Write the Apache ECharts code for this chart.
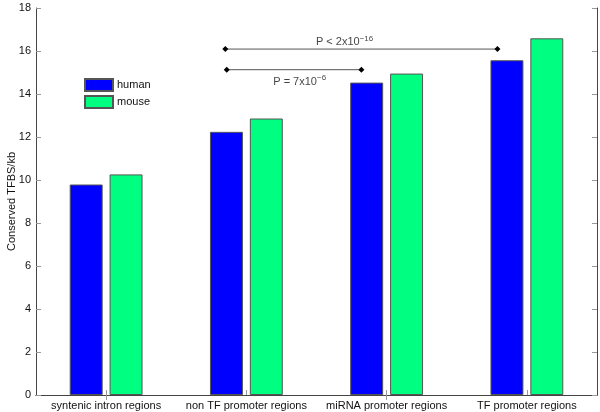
<!DOCTYPE html>
<html>
<head>
<meta charset="utf-8">
<script src="https://cdn.jsdelivr.net/npm/echarts@6/dist/echarts.min.js"></script>
<style>html,body{margin:0;padding:0;background:#fff}#c{width:600px;height:412px}</style>
</head>
<body>
<div id="c"></div>
<script>
const categories = ['syntenic intron regions', 'non TF promoter regions', 'miRNA promoter regions', 'TF promoter regions'];
const human = [9.79, 12.24, 14.53, 15.57];
const mouse = [10.26, 12.86, 14.95, 16.59];
const seriesNames = ['human', 'mouse'];
const yLabel = 'Conserved TFBS/kb';
// significance brackets: [xStart, xEnd, y] on a 0..4 category-coordinate scale
const bracketA = [[1.35, 16.09], [3.29, 16.09]];
const bracketB = [[1.36, 15.13], [2.32, 15.13]];
const labelA = { pos: [2.2, 16.4], base: 'P < 2x10', exp: '−16' };
const labelB = { pos: [1.88, 14.55], base: 'P = 7x10', exp: '−6' };

const FONT = 'Liberation Sans, Arial, Helvetica, sans-serif';
const chart = echarts.init(document.getElementById('c'), null, { renderer: 'canvas' });
const rich = {
  b: { fontSize: 11, fontFamily: FONT, color: '#111' },
  s: { fontSize: 8, fontFamily: FONT, color: '#111', verticalAlign: 'top', padding: [0, 0, 8, 0] }
};
function annLabel(l) {
  return {
    type: 'scatter', xAxisIndex: 2, yAxisIndex: 0, symbolSize: 0, silent: true,
    data: [l.pos],
    label: { show: true, position: 'inside', formatter: '{b|' + l.base + '}{s|' + l.exp + '}', rich: rich }
  };
}
function bracket(d) {
  return {
    type: 'line', xAxisIndex: 2, yAxisIndex: 0, data: d, silent: true,
    symbol: 'diamond', symbolSize: 6, showSymbol: true,
    itemStyle: { color: '#000' },
    lineStyle: { color: '#555', width: 1 }
  };
}
const option = {
  backgroundColor: '#fff',
  animation: false,
  textStyle: { fontFamily: FONT },
  grid: { left: 36, right: 3, top: 8, bottom: 17, containLabel: false, outerBoundsMode: 'none' },
  legend: {
    orient: 'vertical', left: 84, top: 78, itemWidth: 28, itemHeight: 12, itemGap: 3,
    padding: 0, icon: 'rect',
    data: seriesNames, selectedMode: false,
    textStyle: { fontSize: 11, color: '#111', fontFamily: FONT, padding: [0, 0, 0, -1] }
  },
  xAxis: [
    {
      type: 'category', data: categories, position: 'bottom',
      axisLine: { lineStyle: { color: '#444', width: 1 } },
      axisTick: { show: true, inside: true, alignWithLabel: true, length: 5, lineStyle: { color: '#999' } },
      axisLabel: { fontSize: 11, color: '#111', margin: 5, fontFamily: FONT, interval: 0 }
    },
    {
      type: 'category', data: categories, position: 'top',
      axisLine: { show: true, lineStyle: { color: '#444', width: 1 } },
      axisTick: { show: true, inside: true, alignWithLabel: true, length: 5, lineStyle: { color: '#999' } },
      axisLabel: { show: false }
    },
    { type: 'value', min: 0, max: 4, show: false }
  ],
  yAxis: [
    {
      type: 'value', min: 0, max: 18, interval: 2,
      name: yLabel, nameLocation: 'middle', nameGap: 19, nameRotate: 90, nameMoveOverlap: false,
      nameTextStyle: { fontSize: 11, color: '#111', fontFamily: FONT },
      axisLine: { show: true, lineStyle: { color: '#444', width: 1 } },
      axisTick: { show: true, inside: true, length: 5, lineStyle: { color: '#999' } },
      axisLabel: { fontSize: 11, color: '#111', margin: 5, fontFamily: FONT },
      splitLine: { show: false }
    },
    {
      type: 'value', min: 0, max: 18, interval: 2, position: 'right',
      axisLine: { show: true, lineStyle: { color: '#444', width: 1 } },
      axisTick: { show: true, inside: true, length: 5, lineStyle: { color: '#999' } },
      axisLabel: { show: false }, splitLine: { show: false }
    }
  ],
  series: [
    {
      name: seriesNames[0], type: 'bar', data: human, barWidth: '23.5%', barGap: '21%',
      itemStyle: { color: '#0000FF', borderColor: '#555', borderWidth: 1 }
    },
    {
      name: seriesNames[1], type: 'bar', data: mouse, barWidth: '23.5%', barGap: '21%',
      itemStyle: { color: '#00FF80', borderColor: '#555', borderWidth: 1 }
    },
    bracket(bracketA),
    bracket(bracketB),
    annLabel(labelA),
    annLabel(labelB)
  ]
};
chart.setOption(option);
</script>
</body>
</html>
